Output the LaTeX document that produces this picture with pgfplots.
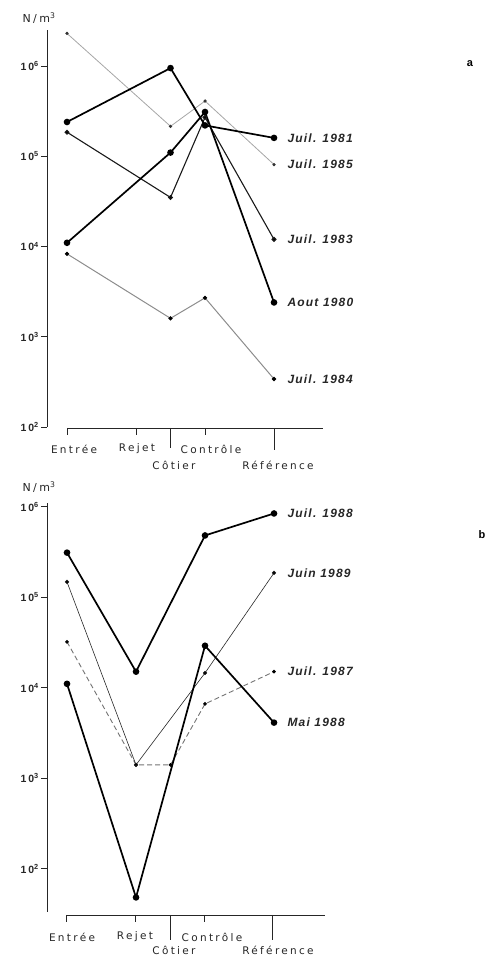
\documentclass[border=0pt]{standalone}
\usepackage{pgfplots}
\pgfplotsset{compat=1.18}
\usepackage{fontspec}
\setmainfont{Liberation Sans}
\newfontfamily\spaced[LetterSpace=22]{DejaVu Sans}
\newfontfamily\tspaced[LetterSpace=18]{Liberation Sans}
\newfontfamily\lab[LetterSpace=10]{Liberation Sans}

\pgfplotsset{
  thk/.style={black, line width=1.7pt, mark=*, mark size=2.4pt, mark options={solid, fill=black}},
  med/.style={black!90, line width=1.1pt, mark=*, mark size=1.9pt, mark options={solid, fill=black}},
  thn/.style={black!85, line width=0.6pt, mark=*, mark size=1.8pt, mark options={solid, fill=black}},
  gry/.style={black!45, line width=1.0pt, mark=*, mark size=1.6pt, mark options={solid, fill=black, draw=black}},
  gryt/.style={black!35, line width=0.8pt, mark=*, mark size=1.2pt, mark options={solid, fill=black!80, draw=black!80}},
  dsh/.style={black!55, line width=0.9pt, dash pattern=on 5pt off 3pt, mark=*, mark size=1.3pt, mark options={solid, fill=black, draw=black}},
}
\tikzset{slab/.style={anchor=west, xshift=10pt, font=\lab\bfseries\itshape\fontsize{12}{13}\selectfont, black!85}}

\begin{document}
\begin{tikzpicture}[x=1pt,y=1pt]
\useasboundingbox (0,0) rectangle (493,957);

% ---------------- panel a ----------------
\begin{axis}[scale only axis, width=276.7pt, xmin=-0.29, xmax=3.72,
    ymode=log, axis y line*=left, axis x line=none, clip=false,
    ytick={1e2,1e3,1e4,1e5,1e6},
    yticklabels={10\textsuperscript{2},10\textsuperscript{3},10\textsuperscript{4},10\textsuperscript{5},10\textsuperscript{6}},
    yminorticks=false, tick align=outside, major tick length=6pt,
    y axis line style={line width=0.9pt, black!85},
    ytick style={line width=0.8pt, black!85},
    yticklabel style={font=\tspaced\bfseries\fontsize{10.5}{12}\selectfont, black!85, inner xsep=2pt},
    at={(47pt,530pt)}, anchor=south west, height=397pt,
    ymin=100, ymax=2511886]
\addplot[gryt] coordinates {(0,2.3e6) (1.5,2.15e5) (2,4.1e5) (3,8.1e4)};
\addplot[gry] coordinates {(0,8.3e3) (1.5,1.6e3) (2,2.7e3) (3,340)};
\addplot[med] coordinates {(0,1.85e5) (1.5,3.5e4) (2,2.7e5) (3,1.2e4)};
\addplot[thk] coordinates {(0,2.4e5) (1.5,9.5e5) (2,2.2e5) (3,1.6e5)};
\addplot[thk] coordinates {(0,1.1e4) (1.5,1.1e5) (2,3.1e5) (3,2.4e3)};
\node[slab] at (axis cs:3,1.6e5) {Juil. 1981};
\node[slab] at (axis cs:3,8.1e4) {Juil. 1985};
\node[slab] at (axis cs:3,1.2e4) {Juil. 1983};
\node[slab] at (axis cs:3,2.4e3) {Aout 1980};
\node[slab] at (axis cs:3,340) {Juil. 1984};
\end{axis}

% ---------------- panel b ----------------
\begin{axis}[scale only axis, width=276.7pt, xmin=-0.29, xmax=3.72,
    ymode=log, axis y line*=left, axis x line=none, clip=false,
    ytick={1e2,1e3,1e4,1e5,1e6},
    yticklabels={10\textsuperscript{2},10\textsuperscript{3},10\textsuperscript{4},10\textsuperscript{5},10\textsuperscript{6}},
    yminorticks=false, tick align=outside, major tick length=6pt,
    y axis line style={line width=0.9pt, black!85},
    ytick style={line width=0.8pt, black!85},
    yticklabel style={font=\tspaced\bfseries\fontsize{10.5}{12}\selectfont, black!85, inner xsep=2pt},
    at={(47pt,45pt)}, anchor=south west, height=409pt,
    ymin=33.11, ymax=1.0965e6]
\addplot[dsh] coordinates {(0,3.2e4) (1,1.4e3) (1.5,1.4e3) (2,6.6e3) (3,1.5e4)};
\addplot[thn] coordinates {(0,1.47e5) (1,1.4e3) (2,1.45e4) (3,1.85e5)};
\addplot[thk] coordinates {(0,3.1e5) (1,1.5e4) (2,4.8e5) (3,8.4e5)};
\addplot[thk] coordinates {(0,1.1e4) (1,48) (2,2.9e4) (3,4.1e3)};
\node[slab] at (axis cs:3,8.4e5) {Juil. 1988};
\node[slab] at (axis cs:3,1.85e5) {Juin 1989};
\node[slab] at (axis cs:3,1.5e4) {Juil. 1987};
\node[slab] at (axis cs:3,4.1e3) {Mai 1988};
\end{axis}

% ---------------- x axes (drawn) ----------------
\begin{scope}[black!85, line width=0.9pt]
  \draw (67,529) -- (323,529);
  \draw (67,529) -- (67,522);
  \draw (136,529) -- (136,522);
  \draw (170.5,529) -- (170.5,509);
  \draw (205,529) -- (205,522);
  \draw (274,529) -- (274,507);
  \draw (66,42) -- (325,42);
  \draw (66,42) -- (66,35);
  \draw (135,42) -- (135,35);
  \draw (170,42) -- (170,17);
  \draw (204,42) -- (204,35);
  \draw (272,42) -- (272,17);
\end{scope}

\begin{scope}[font=\spaced\fontsize{10.5}{12}\selectfont, text=black!85]
  \node at (74,508) {Entrée};
  \node at (137,508) {Rejet};
  \node at (211,508) {Contrôle};
  \node at (174,492) {Côtier};
  \node at (278,492) {Référence};
  \node at (72,20) {Entrée};
  \node at (135,20) {Rejet};
  \node at (212,20) {Contrôle};
  \node at (174,6.5) {Côtier};
  \node at (278,6.5) {Référence};
  \node[font=\spaced\fontsize{11}{13}\selectfont] at (39,939) {N/m\textsuperscript{3}};
  \node[font=\spaced\fontsize{11}{13}\selectfont] at (39,470) {N/m\textsuperscript{3}};
\end{scope}

\node[font=\bfseries\fontsize{11}{12}\selectfont] at (470,893) {a};
\node[font=\bfseries\fontsize{11}{12}\selectfont] at (482,422) {b};
\end{tikzpicture}
\end{document}
